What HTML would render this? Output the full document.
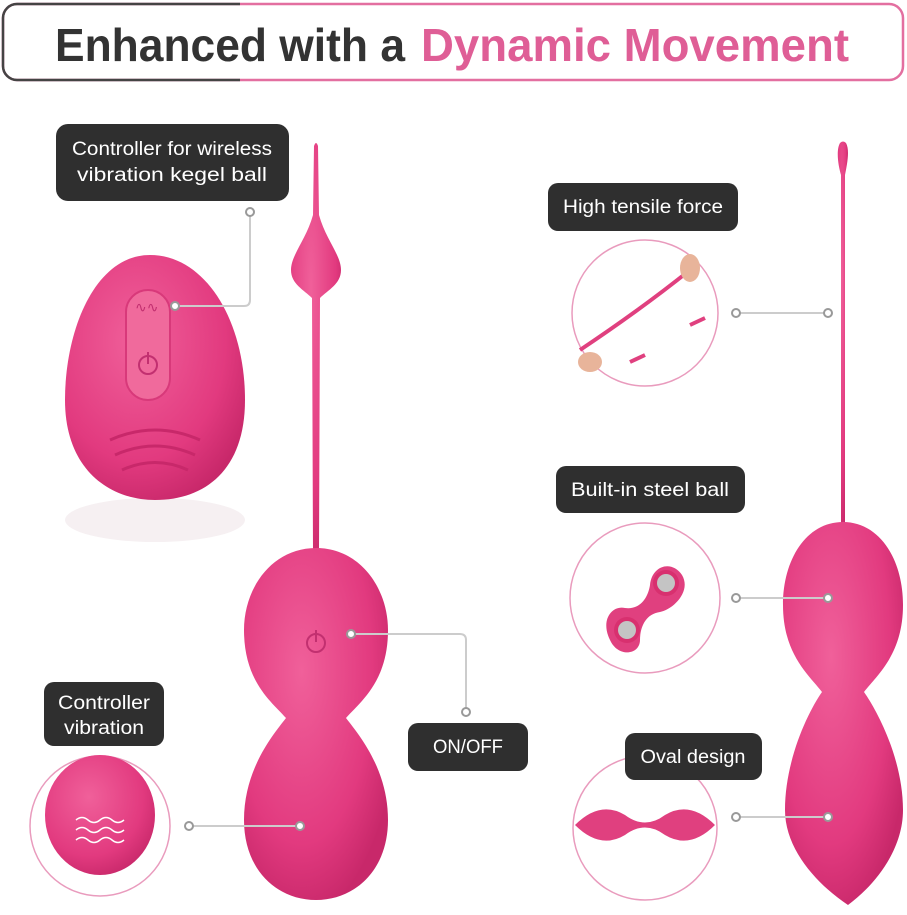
<!DOCTYPE html>
<html><head><meta charset="utf-8"><style>
html,body{margin:0;padding:0;background:#fff}
svg{display:block}
text{font-family:"Liberation Sans",sans-serif}
</style></head><body>
<svg width="907" height="915" viewBox="0 0 907 915" xmlns="http://www.w3.org/2000/svg">
<defs>
<radialGradient id="pk" cx="40%" cy="35%" r="70%"><stop offset="0" stop-color="#f0609a"/><stop offset="0.7" stop-color="#e23a7f"/><stop offset="1" stop-color="#c8286a"/></radialGradient>
</defs>
<rect x="3" y="4" width="900" height="76" rx="14" fill="#fff" stroke="#e36fa0" stroke-width="2.5"/>
<path d="M240 4 H17 A14 14 0 0 0 3 18 V66 A14 14 0 0 0 17 80 H240" fill="none" stroke="#444" stroke-width="2.5"/>
<text x="55" y="61" font-size="46" font-weight="bold" fill="#333" textLength="350" lengthAdjust="spacingAndGlyphs">Enhanced with a</text>
<text x="421" y="61" font-size="46" font-weight="bold" fill="#df5e96" textLength="428" lengthAdjust="spacingAndGlyphs">Dynamic Movement</text>

<ellipse cx="155" cy="520" rx="90" ry="22" fill="#f6f0f2"/>
<path d="M150 255 C95 255 65 330 65 400 C65 470 110 500 155 500 C205 500 245 470 245 400 C245 320 205 255 150 255 Z" fill="url(#pk)"/>
<rect x="126" y="290" width="44" height="110" rx="22" fill="#f06a9c" stroke="#d8397a" stroke-width="2"/>
<text x="135" y="312" font-size="14" fill="#c23070">∿∿</text>
<circle cx="148" cy="365" r="9" fill="none" stroke="#c23070" stroke-width="2"/>
<line x1="148" y1="352" x2="148" y2="364" stroke="#c23070" stroke-width="2"/>
<path d="M110 440 Q155 420 200 440 M115 455 Q155 437 195 455 M122 470 Q155 455 188 470" stroke="#c8286a" stroke-width="3" fill="none"/>

<path d="M314 146 Q316 140 318 146 L319 215 C326 240 341 255 341 270 C341 284 328 290 320 298 L319 552 L313 552 L312 298 C304 290 291 284 291 270 C291 255 306 240 313 215 Z" fill="url(#pk)"/>
<path d="M316 548 C360 548 388 588 388 630 C388 682 360 702 346 718 C360 736 388 770 388 820 C388 870 355 900 316 900 C277 900 244 870 244 820 C244 770 272 736 286 718 C272 702 244 682 244 630 C244 588 272 548 316 548 Z" fill="url(#pk)"/>
<circle cx="316" cy="643" r="9" fill="none" stroke="#c23070" stroke-width="2"/>
<line x1="316" y1="630" x2="316" y2="642" stroke="#c23070" stroke-width="2"/>

<path d="M840 143 Q843 140 846 143 C850 150 847 165 845 175 L845 525 L841 525 L841 175 C838 165 836 150 840 143 Z" fill="url(#pk)"/>
<path d="M843 522 C880 522 903 560 903 605 C903 655 876 676 864 692 C878 712 903 760 903 810 C903 850 875 885 848 905 C818 885 785 850 785 810 C785 760 808 712 822 692 C810 676 783 655 783 605 C783 560 806 522 843 522 Z" fill="url(#pk)"/>

<g fill="#fff" stroke="#e99bbd" stroke-width="1.5">
<circle cx="645" cy="313" r="73"/>
<circle cx="645" cy="598" r="75"/>
<circle cx="645" cy="828" r="72"/>
<circle cx="100" cy="826" r="70"/>
</g>
<path d="M580 350 Q640 310 690 270" stroke="#e0407f" stroke-width="4" fill="none"/>
<path d="M690 325 L705 318 M645 355 L630 362" stroke="#e0407f" stroke-width="4"/>
<ellipse cx="690" cy="268" rx="10" ry="14" fill="#e8b49a"/>
<ellipse cx="590" cy="362" rx="12" ry="10" fill="#e8b49a"/>
<path d="M610 640 C600 620 612 605 625 608 C640 610 648 598 650 585 C652 565 672 560 682 575 C692 592 672 610 660 612 C645 614 640 628 640 640 C640 655 618 658 610 640 Z" fill="#e0407f"/>
<circle cx="627" cy="630" r="13" fill="#d8306f"/><circle cx="627" cy="630" r="9" fill="#c4c4c4"/>
<circle cx="666" cy="583" r="13" fill="#d8306f"/><circle cx="666" cy="583" r="9" fill="#c4c4c4"/>
<path d="M575 825 Q600 800 625 815 Q645 830 665 815 Q690 800 715 825 Q690 850 665 835 Q645 820 625 835 Q600 850 575 825 Z" fill="#e0407f"/>
<ellipse cx="100" cy="815" rx="55" ry="60" fill="url(#pk)"/>
<path d="M76 820 q6 -5 12 0 t12 0 t12 0 t12 0 M76 830 q6 -5 12 0 t12 0 t12 0 t12 0 M76 840 q6 -5 12 0 t12 0 t12 0 t12 0" stroke="#fff" stroke-width="1.5" fill="none"/>

<g stroke="#ccc" stroke-width="2" fill="none">
<path d="M250 212 V300 Q250 306 244 306 H175"/>
<path d="M351 634 H460 Q466 634 466 640 V712"/>
<path d="M736 313 H828"/>
<path d="M736 598 H828"/>
<path d="M736 817 H828"/>
<path d="M189 826 H300"/>
</g>
<g fill="#fff" stroke="#999" stroke-width="2">
<circle cx="250" cy="212" r="4"/><circle cx="175" cy="306" r="4"/>
<circle cx="351" cy="634" r="4"/><circle cx="466" cy="712" r="4"/>
<circle cx="736" cy="313" r="4"/><circle cx="828" cy="313" r="4"/>
<circle cx="736" cy="598" r="4"/><circle cx="828" cy="598" r="4"/>
<circle cx="736" cy="817" r="4"/><circle cx="828" cy="817" r="4"/>
<circle cx="189" cy="826" r="4"/><circle cx="300" cy="826" r="4"/>
</g>

<g fill="#2f2f2f">
<rect x="56" y="124" width="233" height="77" rx="12"/>
<rect x="548" y="183" width="190" height="48" rx="10"/>
<rect x="556" y="466" width="189" height="47" rx="10"/>
<rect x="625" y="733" width="137" height="47" rx="10"/>
<rect x="44" y="682" width="120" height="64" rx="10"/>
<rect x="408" y="723" width="120" height="48" rx="10"/>
</g>
<g fill="#fff" font-size="19" text-anchor="middle">
<text x="172" y="155" textLength="200" lengthAdjust="spacingAndGlyphs">Controller for wireless</text>
<text x="172" y="181" textLength="190" lengthAdjust="spacingAndGlyphs">vibration kegel ball</text>
<text x="643" y="213" textLength="160" lengthAdjust="spacingAndGlyphs">High tensile force</text>
<text x="650" y="496" textLength="158" lengthAdjust="spacingAndGlyphs">Built-in steel ball</text>
<text x="693" y="763" textLength="105" lengthAdjust="spacingAndGlyphs">Oval design</text>
<text x="104" y="709" textLength="92" lengthAdjust="spacingAndGlyphs">Controller</text>
<text x="104" y="734" textLength="80" lengthAdjust="spacingAndGlyphs">vibration</text>
<text x="468" y="753" textLength="70" lengthAdjust="spacingAndGlyphs">ON/OFF</text>
</g>
</svg>
</body></html>
